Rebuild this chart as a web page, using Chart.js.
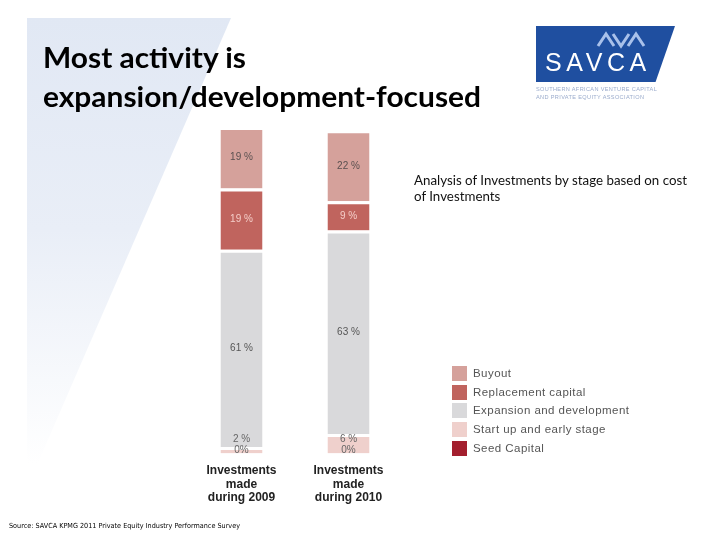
<!DOCTYPE html>
<html><head><meta charset="utf-8">
<script src="https://cdn.jsdelivr.net/npm/chart.js@4/dist/chart.umd.min.js"></script>
<style>
html,body{margin:0;padding:0;width:720px;height:540px;overflow:hidden;background:#fff;}
#bg{position:absolute;left:27px;top:18px;width:204px;height:470px;clip-path:polygon(0 0,100% 0,0 100%);background:linear-gradient(180deg,#e1e8f4 0%,#e9eef7 45%,#ffffff 95%);z-index:0;}
#c{position:absolute;left:0;top:0;z-index:1;}
.t{position:absolute;white-space:nowrap;z-index:2;transform-origin:0 0;}
#title{left:43px;top:37px;font-family:Lato,'Open Sans',sans-serif;font-weight:700;font-size:29px;line-height:39px;color:#000;}
#analysis{left:414px;top:173px;font-family:Lato,'Open Sans',sans-serif;font-size:12.5px;line-height:16px;color:#111;}
#source{left:9px;top:522px;font-family:'DejaVu Sans',sans-serif;font-size:7px;color:#000;}
#legend{position:absolute;left:452px;top:366px;z-index:2;}
.li{height:18.7px;display:flex;align-items:flex-start;font-family:'Liberation Sans',Arial,sans-serif;font-size:11.5px;letter-spacing:0.45px;color:#555;}
.sw{width:15px;height:15px;margin-right:6px;flex:none;}
.li span{line-height:15px;}
#logo{position:absolute;left:536px;top:26px;width:139px;height:56px;background:#1f4fa0;clip-path:polygon(0 0,100% 0,86% 100%,0 100%);z-index:2;}
#savca{position:absolute;left:545px;top:48px;font-family:'Liberation Sans',Arial,sans-serif;font-size:25px;letter-spacing:4.6px;color:#fff;z-index:3;}
#ava{position:absolute;left:596px;top:31px;z-index:3;}
#sub{position:absolute;left:536px;top:85px;font-family:'Liberation Sans',Arial,sans-serif;font-size:5.6px;line-height:8px;letter-spacing:0.35px;color:#9aabcc;z-index:3;}
</style></head>
<body>
<div id="bg"></div>
<canvas id="c" width="720" height="540"></canvas>
<div class="t" id="title"><div>Most activity is</div><div>expansion/development-focused</div></div>
<div class="t" id="analysis"><div>Analysis of Investments by stage based on cost</div><div>of Investments</div></div>
<div class="t" id="source">Source: SAVCA KPMG 2011 Private Equity Industry Performance Survey</div>
<div id="legend"></div>
<div id="logo"></div>
<div id="savca">SAVCA</div>
<svg id="ava" width="54" height="18" viewBox="0 0 54 18"><polyline points="2,15 10,3 18,15" fill="none" stroke="#a9c1ea" stroke-width="3"/><polyline points="17,3 25,15 33,3" fill="none" stroke="#a9c1ea" stroke-width="3"/><polyline points="32,15 40,3 48,15" fill="none" stroke="#a9c1ea" stroke-width="3"/></svg>
<div id="sub">SOUTHERN AFRICAN VENTURE CAPITAL<br>AND PRIVATE EQUITY ASSOCIATION</div>
<script>
// ---- data ----
const categories = [["Investments","made","during 2009"],["Investments","made","during 2010"]];
const seriesNames = ["Seed Capital","Start up and early stage","Expansion and development","Replacement capital","Buyout"];
const seedCapital = [0, 0];
const startUp = [2, 6];
const expansion = [61, 63];
const replacement = [19, 9];
const buyout = [19, 22];
const yMax = 101;

// ---- styles ----
const colors = ["#a31f2e","#efd0cc","#d9d9db","#c0645e","#d5a19b"];
const labelColors = ["#666","#666","#555","#f4cdc8","#5a5050"];

const seriesData = [seedCapital, startUp, expansion, replacement, buyout];

function measure(css, text){const s=document.createElement('span');s.style.cssText=css+";white-space:nowrap;position:absolute;visibility:hidden";s.textContent=text;document.body.appendChild(s);const w=s.getBoundingClientRect().width;s.remove();return w;}
document.getElementById('title').style.transform='scaleX('+(438/measure("font-family:Lato,'Open Sans',sans-serif;font-weight:700;font-size:29px","expansion/development-focused"))+')';
document.getElementById('analysis').style.transform='scaleX('+(273/measure("font-family:Lato,'Open Sans',sans-serif;font-size:12.5px","Analysis of Investments by stage based on cost"))+')';
(function(){const el=document.getElementById('source');el.style.transform='scaleX('+(231/el.getBoundingClientRect().width)+')';})();

// legend (top to bottom)
const lg=document.getElementById('legend');
for(let i=seriesNames.length-1;i>=0;i--){
 const d=document.createElement('div');d.className='li';
 d.innerHTML='<div class="sw" style="background:'+colors[i]+'"></div><span>'+seriesNames[i]+'</span>';
 lg.appendChild(d);
}

const labelPlugin={
 id:'segLabels',
 afterDatasetsDraw(chart){
  const ctx=chart.ctx;
  ctx.save();
  ctx.font="10px 'Liberation Sans', Arial, sans-serif";
  ctx.textAlign='center';ctx.textBaseline='middle';
  chart.data.datasets.forEach((ds,di)=>{
   const meta=chart.getDatasetMeta(di);
   meta.data.forEach((bar,i)=>{
    const v=ds.data[i];
    const p=bar.getProps(['x','y','base'],true);
    let ty=(p.y+p.base)/2;
    let txt=v+' %';
    if(v===0){ty=p.base-3;txt='0%';}
    else if(p.base-p.y<26){ty=Math.min(ty,p.base-14);}
    ctx.fillStyle=labelColors[di];
    ctx.fillText(txt,p.x,ty);
   });
  });
  ctx.restore();
 }
};

new Chart(document.getElementById('c'),{
 type:'bar',
 data:{
  labels:categories,
  datasets:seriesNames.map((n,i)=>({
   label:n,data:seriesData[i],backgroundColor:colors[i],
   borderColor:'#ffffff',borderWidth:{top:3,left:0,right:0,bottom:0},borderSkipped:false,
   barPercentage:0.393,categoryPercentage:1
  }))
 },
 options:{
  responsive:false,animation:false,
  layout:{padding:{left:188,right:318,top:127,bottom:33}},
  plugins:{legend:{display:false},tooltip:{enabled:false}},
  scales:{
   x:{stacked:true,grid:{display:false},border:{display:false},
      ticks:{color:'#222',padding:3,font:{family:"'Liberation Sans', Arial, sans-serif",size:12,weight:'bold',lineHeight:1.1},maxRotation:0}},
   y:{stacked:true,display:false,min:0,max:yMax}
  }
 },
 plugins:[labelPlugin]
});
</script>
</body></html>
